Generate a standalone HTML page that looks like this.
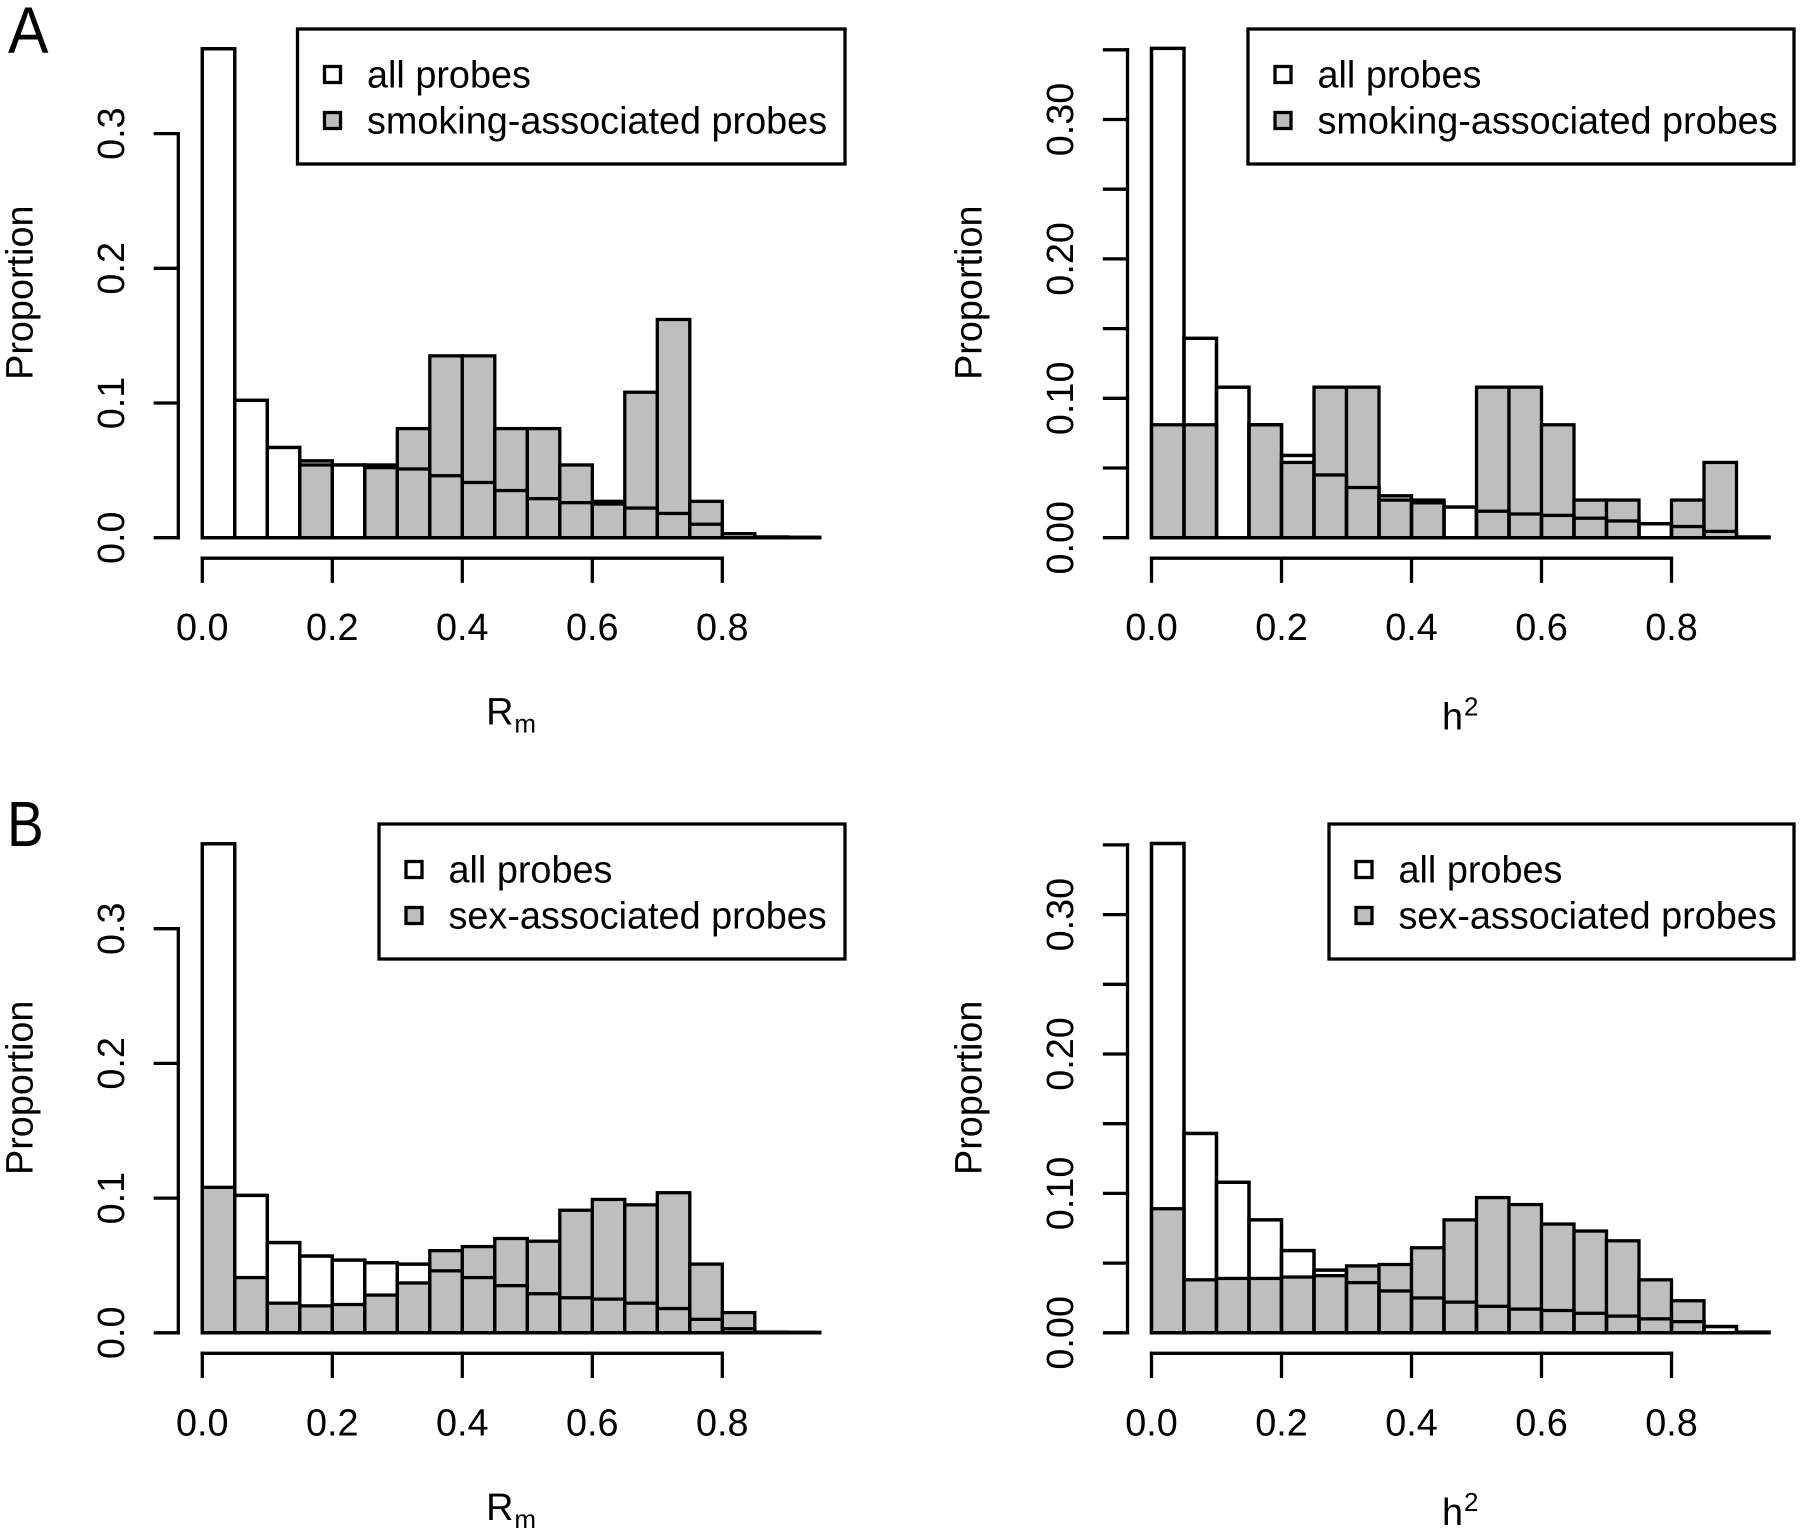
<!DOCTYPE html>
<html lang="en">
<head>
<meta charset="utf-8">
<title>Histograms of Rm and h2</title>
<style>
html,body{margin:0;padding:0;background:#fff;}
svg{display:block;font-family:"Liberation Sans",Arial,sans-serif;fill:#000;}
</style>
</head>
<body>
<svg id="figure" xmlns="http://www.w3.org/2000/svg" width="1800" height="1530" viewBox="0 0 1800 1530"></svg>
<script>
const binStarts = [0,0.05,0.1,0.15,0.2,0.25,0.3,0.35,0.4,0.45,0.5,0.55,0.6,0.65,0.7,0.75,0.8,0.85,0.9];
const rmAllProbes = [0.363,0.102,0.067,0.057,0.054,0.052,0.051,0.046,0.041,0.035,0.029,0.026,0.025,0.022,0.018,0.010,0.003,0.0005,0.0003];
const h2AllProbes = [0.351,0.143,0.108,0.081,0.059,0.045,0.036,0.030,0.025,0.022,0.019,0.017,0.016,0.014,0.012,0.010,0.008,0.0045,0.0005];
const rmSmoking = [0,0,0,0.054,0,0.054,0.081,0.135,0.135,0.081,0.081,0.054,0.027,0.108,0.162,0.027,0,0,0];
const h2Smoking = [0.081,0.081,0,0.081,0.054,0.108,0.108,0.027,0.027,0,0.108,0.108,0.081,0.027,0.027,0,0.027,0.054,0];
const rmSex = [0.108,0.041,0.022,0.020,0.021,0.028,0.037,0.061,0.064,0.070,0.068,0.091,0.099,0.095,0.104,0.051,0.015,0,0];
const h2Sex = [0.089,0.038,0.039,0.039,0.040,0.041,0.048,0.049,0.061,0.081,0.097,0.092,0.078,0.073,0.066,0.038,0.023,0,0];
const xTicks = [0,0.2,0.4,0.6,0.8];
const xTickLabels = ["0.0","0.2","0.4","0.6","0.8"];
const rmYTicks = [0,0.1,0.2,0.3];
const rmYTickLabels = ["0.0","0.1","0.2","0.3"];
const h2YTicks = [0,0.05,0.1,0.15,0.2,0.25,0.3,0.35];
const h2YTickLabels = ["0.00","","0.10","","0.20","","0.30",""];
const legendAll = "all probes";
const legendSmoking = "smoking-associated probes";
const legendSex = "sex-associated probes";

const NS = "http://www.w3.org/2000/svg";
const figure = document.getElementById("figure");
const BIN = 0.05;
const XUNIT = 650;
const FONT = 37.8;
const LW = 3.3;

function mk(parent, tag, attrs, text) {
  const el = document.createElementNS(NS, tag);
  for (const k in attrs) el.setAttribute(k, attrs[k]);
  if (text !== undefined) el.textContent = text;
  parent.appendChild(el);
  return el;
}

function drawPanel(cfg) {
  const xS = v => cfg.x0 + v * XUNIT;
  const yS = v => cfg.y0 - v * cfg.yUnit;

  const g = mk(figure, "g", {});
  
  

  const line = (parent, x1, y1, x2, y2) =>
    mk(parent, "line", {x1, y1, x2, y2, stroke: "#000", "stroke-width": LW, "stroke-linecap": "square"});

  // y axis
  const yAxis = mk(g, "g", {});
  
  
  const axisX = cfg.x0 - 24;
  line(yAxis, axisX, yS(cfg.yTicks[0]), axisX, yS(cfg.yTicks[cfg.yTicks.length - 1]));
  cfg.yTicks.forEach((t, i) => {
    const tick = line(yAxis, axisX, yS(t), axisX - 23, yS(t));
    
    
    if (cfg.yLabels[i]) {
      const bx = cfg.x0 - 78.5;
      const lab = mk(yAxis, "text", {x: bx, y: yS(t), "font-size": FONT, "text-anchor": "middle", transform: `rotate(-90 ${bx} ${yS(t)})`}, cfg.yLabels[i]);
      
      
    }
  });

  const yTitleX = cfg.x0 - 170;
  const yTitleY = cfg.y0 - 245;
  const yTitle = mk(g, "text", {x: yTitleX, y: yTitleY, "font-size": FONT, "text-anchor": "middle", transform: `rotate(-90 ${yTitleX} ${yTitleY})`}, "Proportion");
  
  

  // x axis
  const xAxis = mk(g, "g", {});
  
  
  const axisY = cfg.y0 + 20.5;
  line(xAxis, xS(xTicks[0]), axisY, xS(xTicks[xTicks.length - 1]), axisY);
  xTicks.forEach((t, i) => {
    const tick = line(xAxis, xS(t), axisY, xS(t), axisY + 23);
    
    
    const lab = mk(xAxis, "text", {x: xS(t), y: cfg.y0 + 102.5, "font-size": FONT, "text-anchor": "middle"}, xTickLabels[i]);
    
    
  });

  const xTitle = mk(g, "text", {x: xS(0.475), y: cfg.y0 + cfg.titleDy, "font-size": FONT, "text-anchor": "middle"});
  
  
  mk(xTitle, "tspan", {}, cfg.titleMain);
  mk(xTitle, "tspan", {"font-size": 26, dy: cfg.titleSubDy, dx: 1}, cfg.titleSub);

  // bars: white histogram first, then grey histogram, then outlines of the first on top
  const stroke = {stroke: "#000", "stroke-width": LW, "stroke-linejoin": "miter"};
  const allBars = mk(g, "g", {});
  
  
  binStarts.forEach((b, i) => {
    const r = mk(allBars, "rect", Object.assign({x: xS(b), y: yS(cfg.all[i]), width: BIN * XUNIT, height: cfg.y0 - yS(cfg.all[i]), fill: "#fff"}, stroke));
    
    
  });
  const assocBars = mk(g, "g", {});
  
  
  binStarts.forEach((b, i) => {
    const r = mk(assocBars, "rect", Object.assign({x: xS(b), y: yS(cfg.assoc[i]), width: BIN * XUNIT, height: cfg.y0 - yS(cfg.assoc[i]), fill: "#bebebe"}, stroke));
    
    
  });
  const overlay = mk(g, "g", {});
  
  
  binStarts.forEach((b, i) => {
    const r = mk(overlay, "rect", Object.assign({x: xS(b), y: yS(cfg.all[i]), width: BIN * XUNIT, height: cfg.y0 - yS(cfg.all[i]), fill: "none"}, stroke));
    
    
  });

  // legend
  const legend = mk(g, "g", {});
  
  
  const box = mk(legend, "rect", {x: cfg.legX, y: cfg.legY, width: cfg.legR - cfg.legX, height: 135, fill: "#fff", stroke: "#000", "stroke-width": LW});
  
  
  [[legendAll, "#fff", 45.5, 58.5], [cfg.assocLabel, "#bebebe", 91.5, 104.5]].forEach(e => {
    const sw = mk(legend, "rect", {x: cfg.legX + 27, y: cfg.legY + e[2] - 8, width: 16, height: 16, fill: e[1], stroke: "#000", "stroke-width": LW});
    
    
    const t = mk(legend, "text", {x: cfg.legX + 69.5, y: cfg.legY + e[3], "font-size": FONT}, e[0]);
    
    
  });
}

const panelLetterA = mk(figure, "text", {"font-size": 66, transform: "translate(8 53) scale(0.92 1)"}, "A");


const panelLetterB = mk(figure, "text", {"font-size": 64, transform: "translate(7 846) scale(0.86 1)"}, "B");



drawPanel({name: "panel-a-rm", x0: 202.3, y0: 537.7, yUnit: 1347, yTicks: rmYTicks, yLabels: rmYTickLabels, all: rmAllProbes, assoc: rmSmoking, titleMain: "R", titleSub: "m", titleDy: 187, titleSubDy: 8, assocLabel: legendSmoking, legX: 297.5, legY: 29, legR: 845});
drawPanel({name: "panel-a-h2", x0: 1151.5, y0: 537.7, yUnit: 1394, yTicks: h2YTicks, yLabels: h2YTickLabels, all: h2AllProbes, assoc: h2Smoking, titleMain: "h", titleSub: "2", titleDy: 192, titleSubDy: -14, assocLabel: legendSmoking, legX: 1248, legY: 29, legR: 1794});
drawPanel({name: "panel-b-rm", x0: 202.3, y0: 1332.8, yUnit: 1347, yTicks: rmYTicks, yLabels: rmYTickLabels, all: rmAllProbes, assoc: rmSex, titleMain: "R", titleSub: "m", titleDy: 187, titleSubDy: 8, assocLabel: legendSex, legX: 379, legY: 824, legR: 845});
drawPanel({name: "panel-b-h2", x0: 1151.5, y0: 1332.8, yUnit: 1394, yTicks: h2YTicks, yLabels: h2YTickLabels, all: h2AllProbes, assoc: h2Sex, titleMain: "h", titleSub: "2", titleDy: 192, titleSubDy: -14, assocLabel: legendSex, legX: 1329, legY: 824, legR: 1794});
</script>
</body>
</html>
